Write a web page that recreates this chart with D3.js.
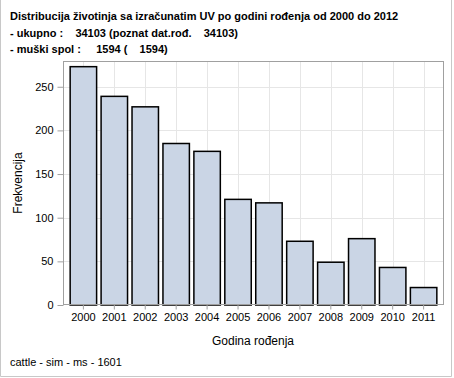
<!DOCTYPE html>
<html><head><meta charset="utf-8">
<script src="https://cdn.jsdelivr.net/npm/d3@7"></script>
<style>
html,body{margin:0;padding:0;background:#fff;}
text{font-family:Arial,"Liberation Sans",sans-serif;white-space:pre;}
</style></head>
<body><svg id="c" width="454" height="378"></svg>
<script>
const years = ["2000","2001","2002","2003","2004","2005","2006","2007","2008","2009","2010","2011"];
const counts = [273, 239, 227, 185, 176, 121, 117, 73, 49, 76, 43, 20];
const yTicks = [0, 50, 100, 150, 200, 250];
const titleLines = [
  "Distribucija životinja sa izračunatim UV po godini rođenja od 2000 do 2012",
  "- ukupno :    34103 (poznat dat.rođ.    34103)",
  "- muški spol :     1594 (    1594)"
];
const xTitle = "Godina rođenja";
const yTitle = "Frekvencija";
const footer = "cattle - sim - ms - 1601";

const svg = d3.select("#c");
const L = 63, R = 444, T = 61, B = 305;

// outer border
svg.append("path").attr("d", "M0.5,0 V376.5 H451.5 V0").attr("fill","none").attr("stroke","#c8c8c8");

const x = d3.scaleBand().domain(years).range([L+5, R-5]).paddingInner(0.145).paddingOuter(0.07);
const y = d3.scaleLinear().domain([0, 279.5]).range([B, T]);

// grid
const g = svg.append("g");
g.selectAll("line.h").data(yTicks.slice(1)).join("line")
  .attr("x1", L).attr("x2", R).attr("y1", d => Math.round(y(d))+0.5).attr("y2", d => Math.round(y(d))+0.5)
  .attr("stroke", "#e6e6e6");
g.selectAll("line.v").data(years).join("line")
  .attr("y1", T).attr("y2", B)
  .attr("x1", d => Math.round(x(d)+x.bandwidth()/2)+0.5).attr("x2", d => Math.round(x(d)+x.bandwidth()/2)+0.5)
  .attr("stroke", "#e6e6e6");

// bars
svg.selectAll("rect.bar").data(years).join("rect")
  .attr("x", d => x(d)).attr("width", x.bandwidth())
  .attr("y", (d,i) => y(counts[i])).attr("height", (d,i) => B - y(counts[i]))
  .attr("fill", "#cad5e5").attr("stroke", "#000").attr("stroke-width", 1.5);

// frame
svg.append("rect").attr("x", L+0.5).attr("y", T+0.5).attr("width", R-L-1).attr("height", B-T-1)
  .attr("fill","none").attr("stroke","#a0a0a0");

// axes
const ya = svg.append("g").attr("transform", `translate(${L+0.5},0)`)
  .call(d3.axisLeft(y).tickValues(yTicks).tickSize(6).tickPadding(4));
const xa = svg.append("g").attr("transform", `translate(0,${B-0.5})`)
  .call(d3.axisBottom(x).tickSize(5).tickPadding(4));
[ya, xa].forEach(a => {
  a.select(".domain").remove();
  a.selectAll(".tick line").attr("stroke", "#a0a0a0");
  a.selectAll(".tick text").attr("fill", "#000").style("font-size", "11px").style("font-family", "Arial, 'Liberation Sans', sans-serif");
});

// titles
titleLines.forEach((t, i) => {
  svg.append("text").attr("x", 10).attr("y", 20 + i*16.7).text(t)
    .style("font-size", "11px").style("font-weight", "bold").attr("fill", "#000");
});
svg.append("text").attr("x", 253).attr("y", 345).attr("text-anchor","middle").text(xTitle)
  .style("font-size","12px").attr("fill","#000");
svg.append("text").attr("transform","translate(22,183) rotate(-90)").attr("text-anchor","middle").text(yTitle)
  .style("font-size","12px").attr("fill","#000");
svg.append("text").attr("x", 10).attr("y", 366).text(footer).style("font-size","11px").attr("fill","#000");
</script></body></html>
